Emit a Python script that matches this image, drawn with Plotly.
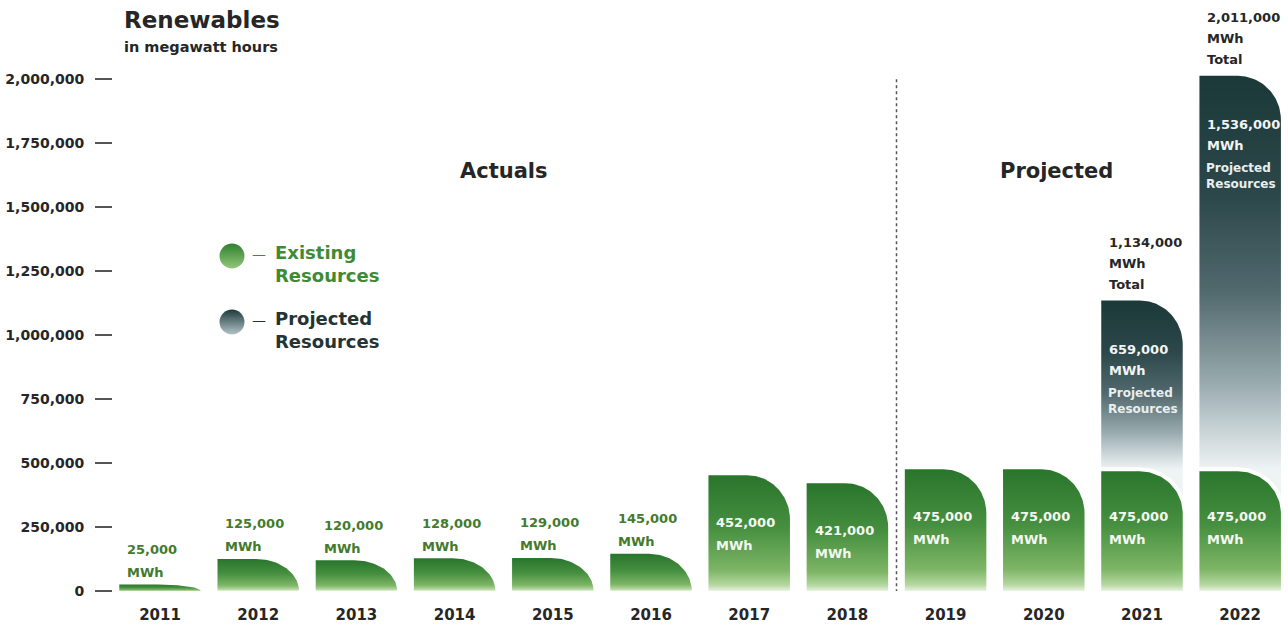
import math
import plotly.graph_objects as go

# ---- data -------------------------------------------------------------
years = ["2011", "2012", "2013", "2014", "2015", "2016",
         "2017", "2018", "2019", "2020", "2021", "2022"]
existing_mwh = [25000, 125000, 120000, 128000, 129000, 145000,
                452000, 421000, 475000, 475000, 475000, 475000]
projected_mwh = [0, 0, 0, 0, 0, 0, 0, 0, 0, 0, 659000, 1536000]
y_tick_values = [0, 250000, 500000, 750000, 1000000, 1250000,
                 1500000, 1750000, 2000000]
first_projected_year = "2019"

# ---- geometry ---------------------------------------------------------
W, H = 1288, 628
MARGIN = dict(l=113, r=0, t=30, b=37)
X_RANGE = [-0.479, 11.487]
Y_RANGE = [0, 2.19e6]
PLOT_W = W - MARGIN["l"] - MARGIN["r"]
PLOT_H = H - MARGIN["t"] - MARGIN["b"]
DX = (X_RANGE[1] - X_RANGE[0]) / PLOT_W   # data units per pixel (x)
DY = (Y_RANGE[1] - Y_RANGE[0]) / PLOT_H   # data units per pixel (y)

BAR_W = 0.83
CORNER_RX = 43 * DX
CORNER_RY = 44 * DY
SEPARATOR_PX = 4

FONT = "DejaVu Sans"
DARK = "#262626"
GREEN_TEXT = "#437a2c"

GREEN_SCALE = [[0.0, "#eaf3e4"], [0.05, "#b6d8a2"], [0.18, "#7db565"],
               [0.55, "#468f40"], [1.0, "#29752c"]]
TEAL_SCALE = [[0.0, "#eef3f4"], [0.1, "#c8d3d6"], [0.22, "#98aaae"],
              [0.45, "#52696e"], [0.7, "#2b4749"], [1.0, "#1c393a"]]


def bar_outline(i, base, top, pad_px=0.0, n=36):
    """Bar with a rounded (quarter-ellipse) top-right corner.

    pad_px widens the sides and bottom so a white stroke only eats into the top."""
    px, py = pad_px * DX, pad_px * DY
    x0, x1 = i - BAR_W / 2 - px, i + BAR_W / 2 + px
    ry = min(CORNER_RY, top - base)
    rx = CORNER_RX + px
    xs, ys = [x0, x0], [base - py, top]
    for k in range(n + 1):
        a = (math.pi / 2) * k / n
        xs.append(x1 - rx + rx * math.sin(a))
        ys.append(top - ry + ry * math.cos(a))
    return xs + [x1, x0], ys + [base - py, base - py]


fig = go.Figure()
annotations = []


def add_lines(x, y, lines, color, sizes, yshifts, xshift=6):
    for text, ys, sz in zip(lines, yshifts, sizes):
        annotations.append(dict(
            x=x, y=y, xref="x", yref="y", text=text, showarrow=False,
            xanchor="left", yanchor="middle", xshift=xshift, yshift=ys,
            font=dict(family=FONT, size=sz, color=color, weight="bold")))


for i, (yr, ex, pr) in enumerate(zip(years, existing_mwh, projected_mwh)):
    total = ex + pr
    x_left = i - BAR_W / 2
    stacked = pr > 0
    if stacked:
        xs, ys = bar_outline(i, 0, total)
        fig.add_trace(go.Scatter(
            x=xs, y=ys, mode="lines", fill="toself", line=dict(width=0),
            fillgradient=dict(type="vertical", colorscale=TEAL_SCALE,
                              start=ex, stop=total),
            hoverinfo="skip", showlegend=False))
    # existing resources; a white stroke separates it from a stacked segment
    pad = SEPARATOR_PX / 2 if stacked else 0
    xs, ys = bar_outline(i, 0, ex, pad_px=pad)
    fig.add_trace(go.Scatter(
        x=xs, y=ys, mode="lines", fill="toself",
        line=dict(width=SEPARATOR_PX if stacked else 0, color="white"),
        fillgradient=dict(type="vertical", colorscale=GREEN_SCALE, start=0, stop=ex),
        hoverinfo="skip", showlegend=False))

    ex_label = f"{ex:,}"
    if ex / DY > 90:
        add_lines(x_left, ex, [ex_label, "MWh"], "#f4f8f2", [13, 13], [-47, -70])
    else:
        add_lines(x_left, ex, [ex_label, "MWh"], GREEN_TEXT, [13, 13], [35, 12])
    if stacked:
        add_lines(x_left, total, [f"{pr:,}", "MWh"], "#f2f5f5", [13, 13], [-49, -70])
        add_lines(x_left, total, ["Projected", "Resources"], "#e9eeee", [12, 12],
                  [-92, -108], xshift=5)
        add_lines(x_left, total, [f"{total:,}", "MWh", "Total"], DARK,
                  [13, 13, 13], [58, 37, 16])

# divider between actual and projected years
div_x = years.index(first_projected_year) - 0.5
fig.add_shape(type="line", xref="x", yref="y", x0=div_x, x1=div_x,
              y0=-5000, y1=2.0e6, line=dict(color="#555555", width=1.5, dash="dot"))

# section headings
heading_y = (H - MARGIN["b"] - 171) * DY
for label, xc in (("Actuals", 3.5), ("Projected", 9.13)):
    annotations.append(dict(x=xc, y=heading_y, xref="x", yref="y", text=label,
                            showarrow=False,
                            font=dict(family=FONT, size=21, color=DARK, weight="bold")))


def px_paper(px, py):
    return (px - MARGIN["l"]) / PLOT_W, (H - MARGIN["b"] - py) / PLOT_H


# title block
tx, ty = px_paper(122, 20)
annotations.append(dict(x=tx, y=ty, xref="paper", yref="paper", text="Renewables",
                        showarrow=False, xanchor="left", yanchor="middle",
                        font=dict(family=FONT, size=23, color=DARK, weight="bold")))
sx, sy = px_paper(122, 47)
annotations.append(dict(x=sx, y=sy, xref="paper", yref="paper", text="in megawatt hours",
                        showarrow=False, xanchor="left", yanchor="middle",
                        font=dict(family=FONT, size=14.5, color=DARK, weight="bold")))

# legend keys
legend_items = [("Existing<br>Resources", "#2f7f2f", "#93c779", "#3f8a34", 256),
                ("Projected<br>Resources", "#1d3a3b", "#b3c3c6", "#243334", 322)]
for text, c_top, c_bot, txt_col, cy in legend_items:
    mx, my = px_paper(232, cy)
    fig.add_trace(go.Scatter(
        x=[mx], y=[my], xaxis="x2", yaxis="y2", mode="markers",
        marker=dict(size=25, color=c_top, line=dict(width=0),
                    gradient=dict(type="vertical", color=c_bot)),
        hoverinfo="skip", showlegend=False))
    dx_, dy_ = px_paper(250, cy - 2)
    annotations.append(dict(x=dx_, y=dy_, xref="paper", yref="paper", text="—",
                            showarrow=False, xanchor="left", yanchor="middle",
                            font=dict(family=FONT, size=14, color=txt_col)))
    lx, ly = px_paper(273, cy + 8)
    annotations.append(dict(x=lx, y=ly, xref="paper", yref="paper", text=text,
                            showarrow=False, xanchor="left", yanchor="middle", align="left",
                            font=dict(family=FONT, size=18, color=txt_col, weight="bold")))

fig.update_layout(
    width=W, height=H, margin=MARGIN,
    paper_bgcolor="white", plot_bgcolor="white",
    showlegend=False, annotations=annotations,
    xaxis=dict(range=X_RANGE, tickmode="array", tickvals=list(range(len(years))),
               ticktext=years, showgrid=False, zeroline=False, showline=False,
               ticks="", ticklabelstandoff=13,
               tickfont=dict(family=FONT, size=15, color=DARK, weight="bold")),
    yaxis=dict(range=Y_RANGE, tickmode="array", tickvals=y_tick_values,
               tickformat=",d", showgrid=False, zeroline=False, showline=False,
               ticks="outside", ticklen=17, tickwidth=1.5, tickcolor="#555555",
               ticklabelstandoff=8,
               tickfont=dict(family=FONT, size=14, color=DARK, weight="bold")),
    xaxis2=dict(overlaying="x", range=[0, 1], visible=False),
    yaxis2=dict(overlaying="y", range=[0, 1], visible=False),
)

fig.write_html("out.html")
